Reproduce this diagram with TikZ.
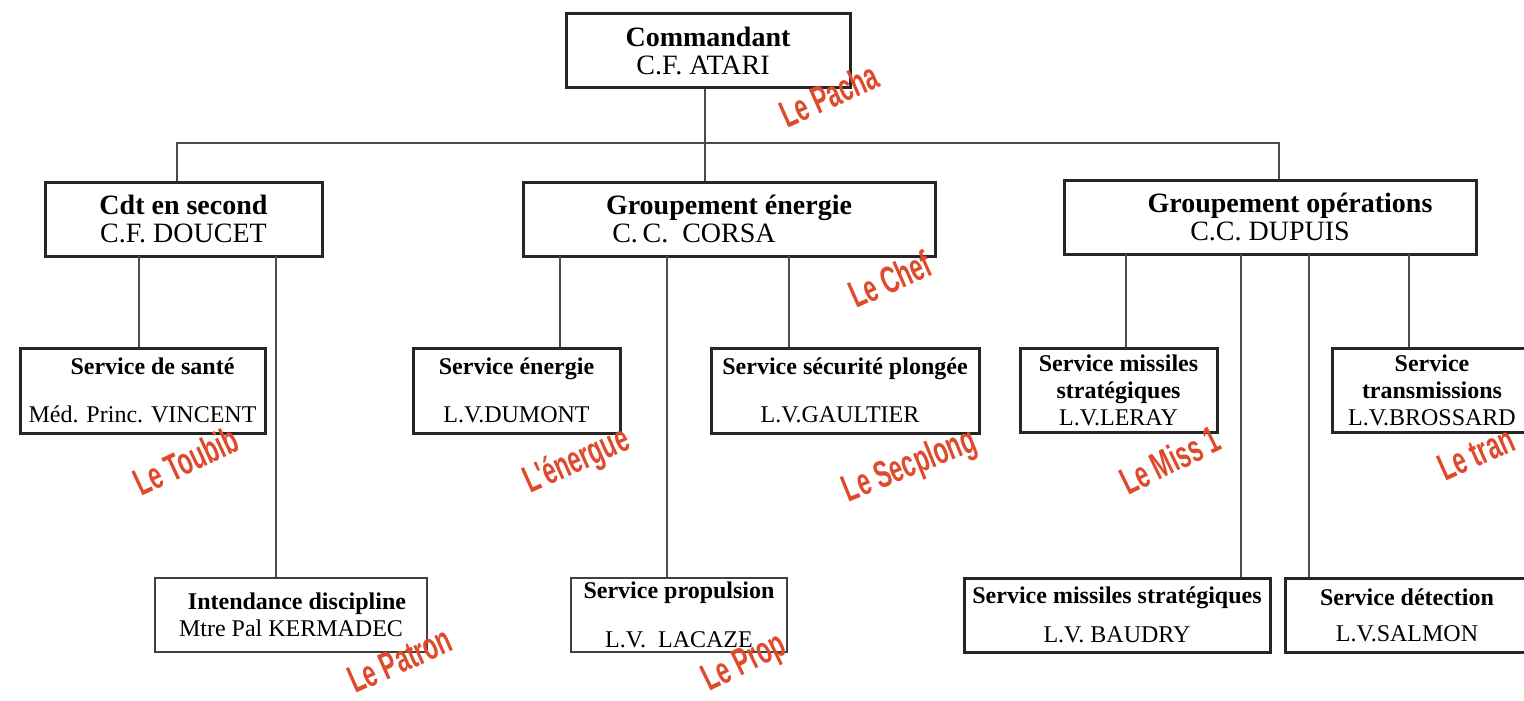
\documentclass[tikz,border=0pt]{standalone}
\usepackage{fontspec}
\setmainfont{Liberation Serif}
\newfontfamily\handfont[FakeStretch=0.62]{Liberation Sans}
\definecolor{pen}{HTML}{E04A2C}

\begin{document}
\begin{tikzpicture}[x=1pt, y=-1pt,
    chief/.style={draw=black!85, line width=3pt, minimum height=74pt, inner sep=0pt, align=center, font=\fontsize{28}{28}\selectfont},
    service/.style={draw=black!85, line width=3pt, minimum height=85pt, inner sep=0pt, align=center, font=\fontsize{24}{27}\selectfont},
    lowservice/.style={service, draw=black!75, line width=1.1pt, minimum height=74pt},
    link/.style={draw=black!70, line width=1.3pt},
    nick/.style={text=pen, font=\handfont\bfseries\fontsize{38}{38}\selectfont, inner sep=0pt}]
  \path[use as bounding box, clip] (0,0) rectangle (1524,701);

  % chiefs
  \node[chief, minimum width=284pt] (cmd) at (708,50.5) {\textbf{Commandant}\\C.F. ATARI\hspace*{10pt}};
  \node[chief, minimum width=277pt] (second) at (183.5,219) {\textbf{Cdt en second}\\C.F. DOUCET};
  \node[chief, minimum width=412pt] (energie) at (729,219) {\textbf{Groupement énergie}\\C.\,C.\ \ CORSA\hspace*{70pt}};
  \node[chief, minimum width=412pt] (ops) at (1270,217) {\hspace*{40pt}\textbf{Groupement opérations}\\C.C. DUPUIS};

  % services
  \node[service, minimum width=245pt] (sante) at (142.5,390.5) {\hspace*{20pt}\textbf{Service de santé}\\[21pt]Méd. Princ. VINCENT};
  \node[lowservice, minimum width=272pt] (intend) at (291,615) {\hspace*{12pt}\textbf{Intendance discipline}\\Mtre Pal KERMADEC};
  \node[service, minimum width=207pt] (senergie) at (516.5,390.5) {\textbf{Service énergie}\\[21pt]L.V.DUMONT};
  \node[lowservice, minimum width=216pt] (prop) at (679,615) {\textbf{Service propulsion}\\[22pt]L.V.\ \ LACAZE};
  \node[service, minimum width=268pt] (secu) at (845,390.5) {\textbf{Service sécurité plongée}\\[21pt]L.V.GAULTIER\hspace*{10pt}};
  \node[service, minimum width=197pt, minimum height=84pt] (leray) at (1118.5,390) {\textbf{Service missiles}\\\textbf{stratégiques}\\L.V.LERAY};
  \node[service, minimum width=306pt, minimum height=74pt] (baudry) at (1117,615) {\textbf{Service missiles stratégiques}\\[12pt]L.V. BAUDRY};
  \node[service, minimum width=244pt, minimum height=74pt] (detect) at (1407,615) {\textbf{Service détection}\\[9pt]L.V.SALMON};
  \node[service, minimum width=200pt, minimum height=84pt] (trans) at (1432,390) {\textbf{Service}\\\textbf{transmissions}\\L.V.BROSSARD};

  % links
  \coordinate (b1) at (177,143);
  \coordinate (b2) at (705,143);
  \coordinate (b3) at (1279,143);
  \draw[link] (cmd.south -| b2) -- (b2);
  \draw[link] (b1 |- second.north) -- (b1) -- (b3) -- (b3 |- ops.north);
  \draw[link] (b2) -- (b2 |- energie.north);

  \coordinate (d1) at (139,256);
  \coordinate (d2) at (276,256);
  \coordinate (d3) at (560,256);
  \coordinate (d4) at (667,256);
  \coordinate (d5) at (789,256);
  \coordinate (d6) at (1126,254);
  \coordinate (d7) at (1241,254);
  \coordinate (d8) at (1309,254);
  \coordinate (d9) at (1409,254);
  \draw[link] (d1) -- (d1 |- sante.north);
  \draw[link] (d2) -- (d2 |- intend.north);
  \draw[link] (d3) -- (d3 |- senergie.north);
  \draw[link] (d4) -- (d4 |- prop.north);
  \draw[link] (d5) -- (d5 |- secu.north);
  \draw[link] (d6) -- (d6 |- leray.north);
  \draw[link] (d7) -- (d7 |- baudry.north);
  \draw[link] (d8) -- (d8 |- detect.north);
  \draw[link] (d9) -- (d9 |- trans.north);

  % nicknames
  \node[nick, rotate=24] (pacha) at (829,95) {Le Pacha};
  \node[nick, rotate=24] (chef) at (890,279) {Le Chef};
  \node[nick, rotate=25] (toubib) at (186,461) {Le Toubib};
  \node[nick, rotate=24] (nrj) at (577,462) {L'énergue};
  \node[nick, rotate=22] (secplong) at (910,467) {Le Secplong};
  \node[nick, rotate=26] (miss) at (1170,460) {Le Miss 1};
  \node[nick, rotate=24, anchor=west] (tran) at (1440,470) {Le tran};
  \node[nick, rotate=24] (patron) at (400,660) {Le Patron};
  \node[nick, rotate=26] (propnick) at (745,664) {Le Prop};
\end{tikzpicture}
\end{document}
